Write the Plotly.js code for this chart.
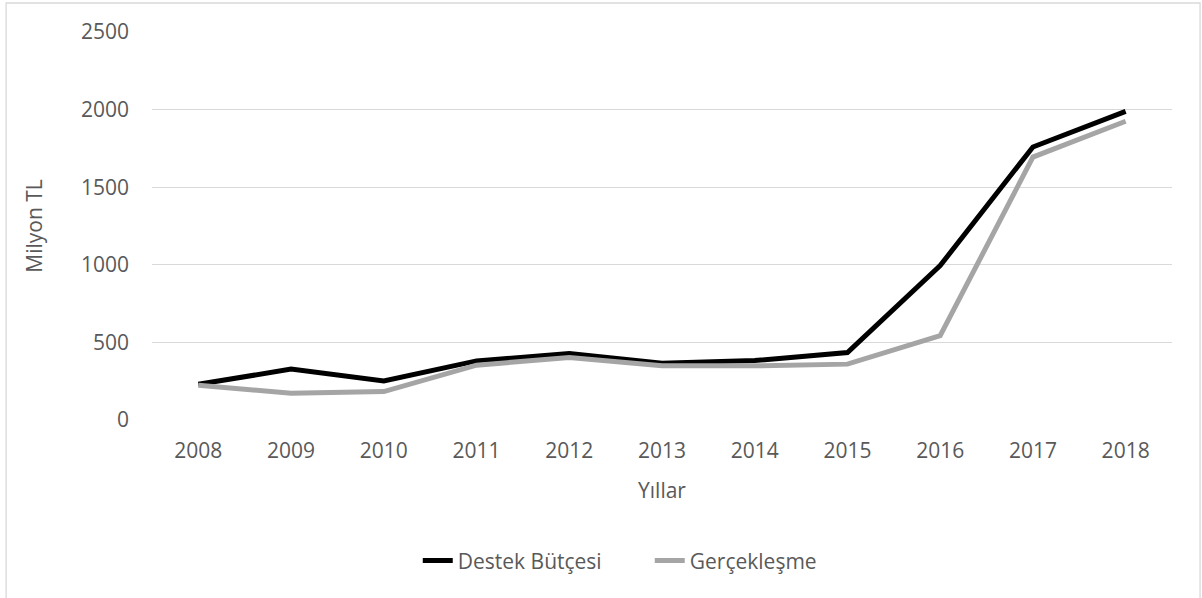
<!DOCTYPE html>
<html>
<head>
<meta charset="utf-8">
<script src="https://cdn.plot.ly/plotly-3.0.1.min.js"></script>
<style>html,body{margin:0;padding:0;background:#fff;}#chart{width:1202px;height:598px;}</style>
</head>
<body>
<div id="chart"></div>
<script>
const years = ["2008","2009","2010","2011","2012","2013","2014","2015","2016","2017","2018"];
const destekButcesi = [230, 328, 252, 381, 428, 365, 383, 435, 995, 1759, 1989];
const gerceklesme = [224, 172, 183, 353, 403, 349, 349, 360, 543, 1694, 1925];
const seriesNames = ["Destek Bütçesi", "Gerçekleşme"];
const yTicks = [0, 500, 1000, 1500, 2000, 2500];

const font = {family: "Open Sans, sans-serif", size: 21, color: "#595959"};

const traces = [
  {x: years, y: destekButcesi, name: seriesNames[0], type: "scatter", mode: "lines",
   line: {color: "#000000", width: 5}},
  {x: years, y: gerceklesme, name: seriesNames[1], type: "scatter", mode: "lines",
   line: {color: "#a5a5a5", width: 5}}
];

const layout = {
  width: 1202, height: 598,
  margin: {l: 152, r: 30, t: 32, b: 178},
  paper_bgcolor: "#ffffff", plot_bgcolor: "#ffffff",
  font: font,
  showlegend: true,
  legend: {orientation: "h", x: 0.488, xanchor: "center", y: -0.363, yanchor: "middle",
           font: font, bgcolor: "rgba(0,0,0,0)", traceorder: "normal", entrywidth: 187},
  xaxis: {type: "category", range: [-0.5, 10.5], tickvals: years, ticktext: years, showgrid: false, zeroline: false,
          showline: false, ticks: "", tickfont: font, fixedrange: true, ticklabelstandoff: 16,
          title: {text: "Yıllar", font: font, standoff: 20}},
  yaxis: {range: [0, 2500], tickvals: yTicks, showgrid: true, gridcolor: "#d9d9d9", gridwidth: 1.3,
          zeroline: false, showline: false, ticks: "", tickfont: font, fixedrange: true,
          ticklabelstandoff: 22,
          title: {text: "Milyon TL", font: font, standoff: 32}},
  shapes: [{type: "rect", xref: "paper", yref: "paper", x0: -0.143, x1: 1.0275, y0: -0.47, y1: 1.0747,
            line: {color: "#d9d9d9", width: 1.3}, layer: "below"}]
};

Plotly.newPlot("chart", traces, layout, {displayModeBar: false, staticPlot: true});
</script>
</body>
</html>
